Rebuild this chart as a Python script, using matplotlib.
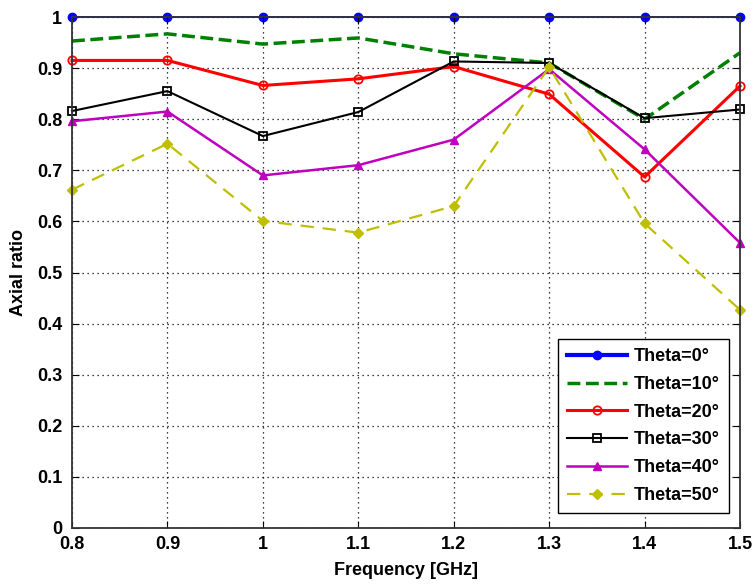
import matplotlib
matplotlib.use('Agg')
import matplotlib.pyplot as plt

freq = [0.8, 0.9, 1.0, 1.1, 1.2, 1.3, 1.4, 1.5]
theta0 = [1, 1, 1, 1, 1, 1, 1, 1]
theta10 = [0.953, 0.967, 0.947, 0.959, 0.928, 0.910, 0.800, 0.930]
theta20 = [0.915, 0.915, 0.866, 0.879, 0.903, 0.849, 0.687, 0.865]
theta30 = [0.816, 0.855, 0.767, 0.814, 0.913, 0.910, 0.802, 0.819]
theta40 = [0.796, 0.815, 0.690, 0.710, 0.760, 0.898, 0.741, 0.558]
theta50 = [0.662, 0.752, 0.601, 0.578, 0.630, 0.902, 0.596, 0.427]

plt.rcParams['font.family'] = ['Liberation Sans', 'DejaVu Sans']
plt.rcParams['font.weight'] = 'bold'

fig = plt.figure(figsize=(7.54, 5.86), dpi=100)
ax = fig.add_axes([72/754, 58/586, 668/754, 511/586])

# blue line sits under the top spine, only its dots show
ax.plot(freq, theta0, '-', color='#0000ff', lw=1.2, marker='o', ms=6, label='Theta=0°', clip_on=False, zorder=1.5)
ax.plot(freq, theta10, '--', color='#008000', lw=2.5, label='Theta=10°', clip_on=False)
ax.plot(freq, theta20, '-', color='#ff0000', lw=2.2, marker='o', ms=6, mfc='none', mew=1.3, label='Theta=20°', clip_on=False)
ax.plot(freq, theta30, '-', color='black', lw=1.5, marker='s', ms=6, mfc='none', mew=1.3, label='Theta=30°', clip_on=False)
ax.plot(freq, theta40, '-', color='#bf00bf', lw=1.8, marker='^', ms=6, label='Theta=40°', clip_on=False)
ax.plot(freq, theta50, '--', color='#bfbf00', lw=1.6, marker='D', ms=5, dashes=(6, 4), label='Theta=50°', clip_on=False)

ax.set_xlim(0.8, 1.5)
ax.set_ylim(0, 1)
ax.set_xticks(freq)
ax.set_xticklabels(['0.8', '0.9', '1', '1.1', '1.2', '1.3', '1.4', '1.5'])
ax.set_yticks([i / 10 for i in range(11)])
ax.set_yticklabels(['0', '0.1', '0.2', '0.3', '0.4', '0.5', '0.6', '0.7', '0.8', '0.9', '1'])
ax.tick_params(direction='in', top=True, right=True, labelsize=13, length=5)
ax.tick_params(axis='x', pad=6)
ax.tick_params(axis='y', pad=7)
ax.grid(True, linestyle=(0, (1, 3)), color='black', lw=0.9)
for s in ax.spines.values():
    s.set_color('#333333')
    s.set_linewidth(1.3)
    s.set_zorder(3)

ax.set_xlabel('Frequency [GHz]', fontsize=13, fontweight='bold', labelpad=6)
ax.set_ylabel('Axial ratio', fontsize=13, fontweight='bold', labelpad=7)

handles, labels = ax.get_legend_handles_labels()
leg = ax.legend(handles, labels, loc='lower right', bbox_to_anchor=(0.9835, 0.029),
                fontsize=13, fancybox=False, edgecolor='black',
                framealpha=1, handlelength=3.3, handletextpad=0.4, borderaxespad=0,
                labelspacing=0.6, borderpad=0.5)
leg.get_frame().set_linewidth(1)
leg.legend_handles[0].set_linewidth(3)

fig.savefig('out.png', dpi=100)
